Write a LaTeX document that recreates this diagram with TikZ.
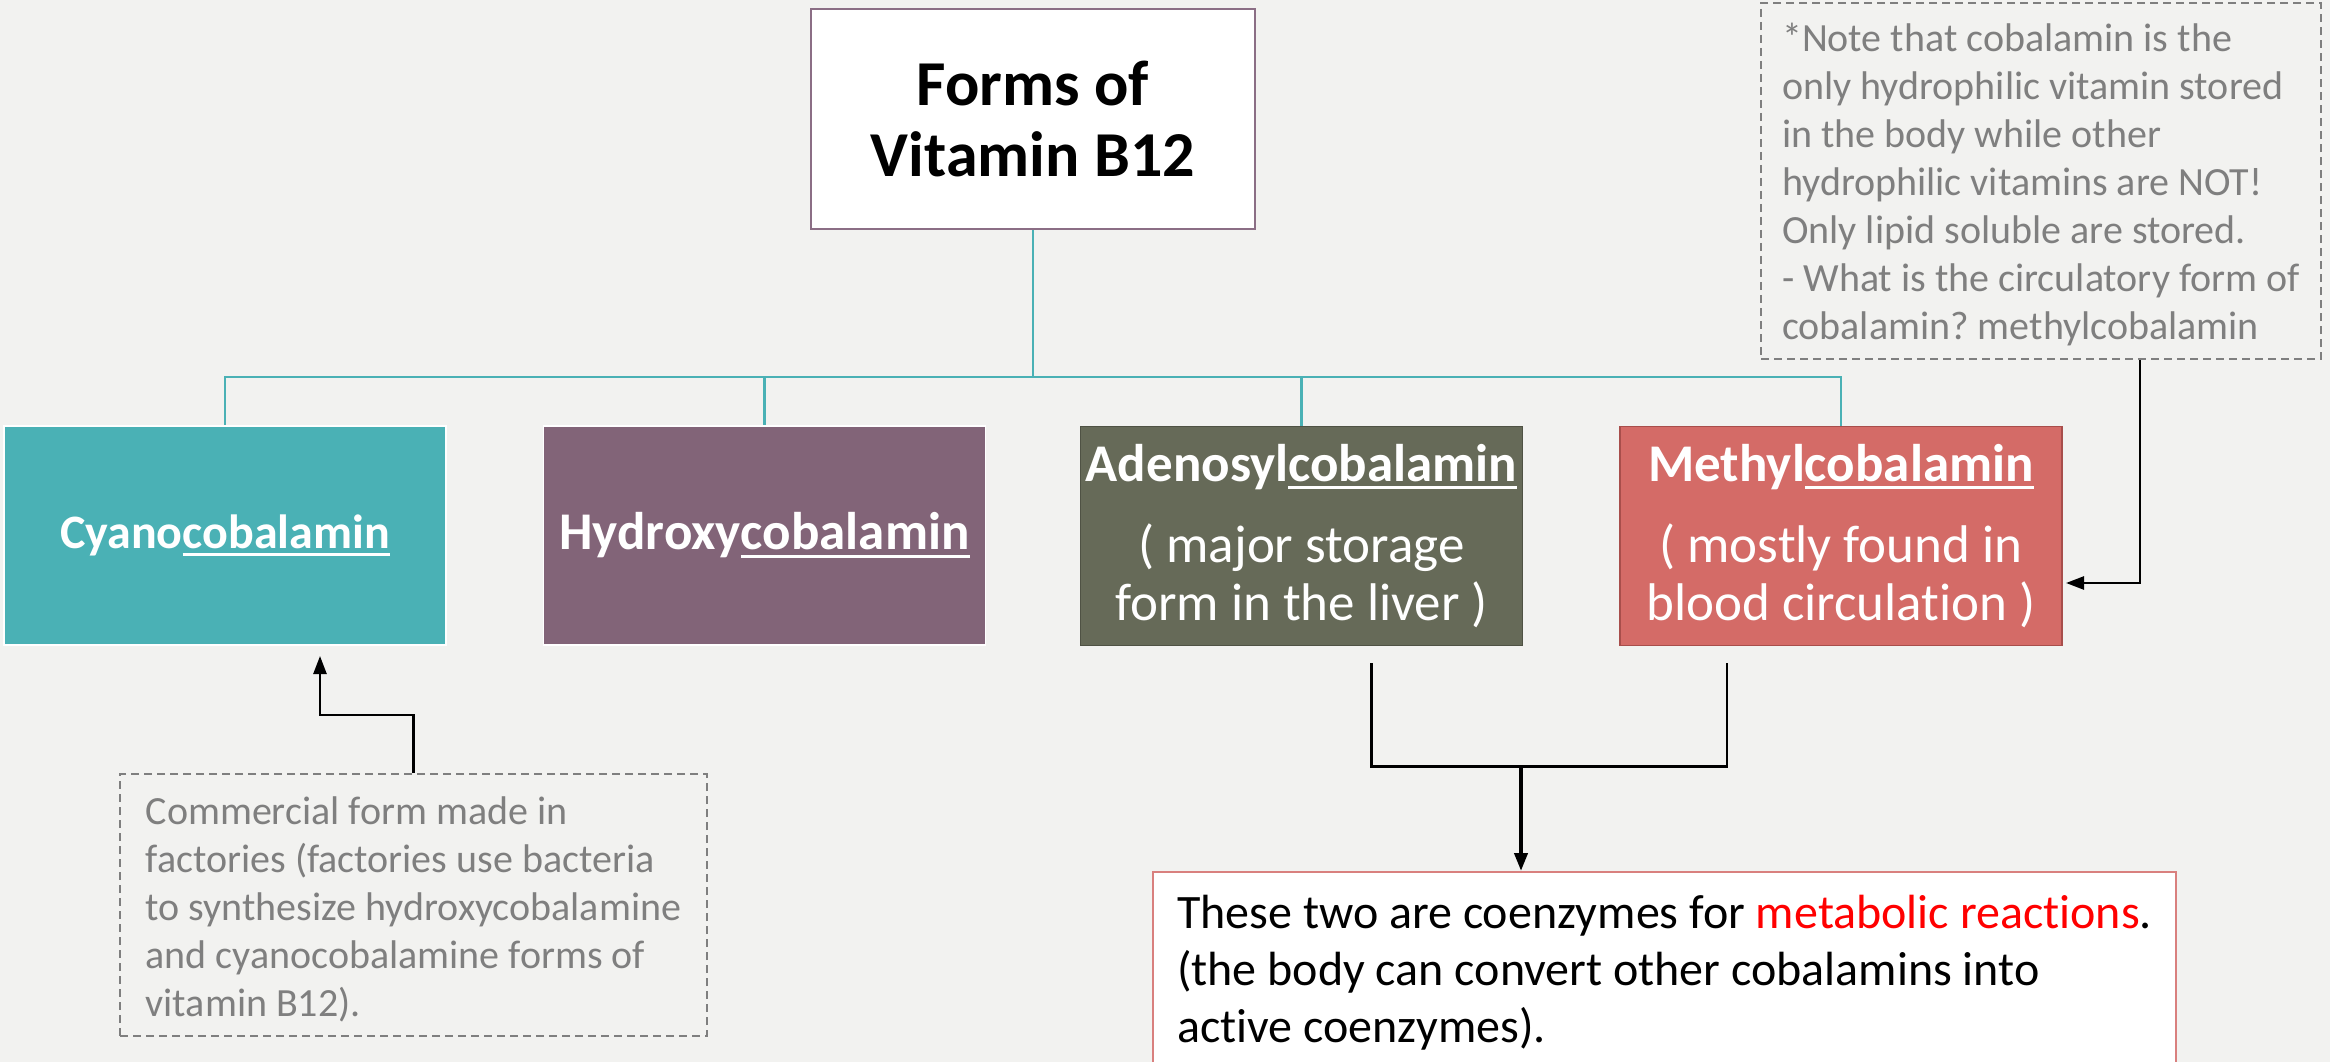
\documentclass[tikz,border=0pt]{standalone}
\usepackage{fontspec}
\setmainfont{Carlito}[RawFeature={-liga}]
\usetikzlibrary{arrows.meta,calc}
\definecolor{bg}{HTML}{F2F2F0}
\definecolor{titleborder}{HTML}{8B6E85}
\definecolor{tealc}{HTML}{4AB1B5}
\definecolor{hydfill}{HTML}{826478}
\definecolor{adfill}{HTML}{666A58}
\definecolor{adborder}{HTML}{4F5244}
\definecolor{mefill}{HTML}{D46B67}
\definecolor{meborder}{HTML}{A84E4B}
\definecolor{notegray}{HTML}{7F7F7F}
\definecolor{coborder}{HTML}{D9807E}
\newcommand\myul[1]{\setbox0=\hbox{#1}\rlap{\rule[-8pt]{\wd0}{3pt}}\box0}
\frenchspacing
\begin{document}
\begin{tikzpicture}[x=1pt,y=-1pt,
  titlebox/.style={draw=titleborder, line width=2pt, fill=white, minimum width=444pt, minimum height=220pt, inner sep=0pt, align=center, font=\fontsize{64}{71}\selectfont\bfseries},
  formbox/.style={minimum width=442pt, minimum height=219pt, inner sep=0pt, align=center, text=white, line width=1.5pt, font=\fontsize{53}{58}\selectfont},
  notebox/.style={draw=notegray, line width=2pt, dash pattern=on 8pt off 5pt, inner sep=0pt, align=left, text=notegray, font=\fontsize{40}{48}\selectfont},
  teal link/.style={draw=tealc, line width=2.5pt},
  blk link/.style={draw=black, line width=2.5pt},
  tip/.style={-{Triangle[length=18pt,width=13pt]}}
]
\useasboundingbox (0,0) rectangle (2330,1062);
\fill[bg] (0,0) rectangle (2330,1062);

\node[titlebox] (title) at (1033,119) {Forms of\\Vitamin B12};

\node[formbox, fill=tealc, draw=white, font=\fontsize{48}{58}\selectfont] (cyano) at (225,535.5) {\bfseries Cyano\myul{cobalamin}};
\node[formbox, fill=hydfill, draw=white] (hydroxy) at (764.5,535.5) {\bfseries Hydroxy\myul{cobalamin}};
\node[formbox, fill=adfill, draw=adborder] (adeno) at (1301.5,536) {{\bfseries Adenosyl\myul{cobalamin}}\\[23pt]( major storage\\form in the liver )};
\node[formbox, fill=mefill, draw=meborder] (methyl) at (1841,536) {{\bfseries Methyl\myul{cobalamin}}\\[23pt]( mostly found in\\blood circulation )};

\foreach \c in {cyano,hydroxy,adeno,methyl}
  \draw[teal link] (title.south) -- ++(0,147) -| (\c.north);

\node[notebox, minimum width=560pt, minimum height=356pt] (noteR) at (2041,181) {\rule{0pt}{36pt}*Note that cobalamin is the\\only hydrophilic vitamin stored\\in the body while other\\hydrophilic vitamins are NOT!\\Only lipid soluble are stored.\\- What is the circulatory form of\\cobalamin? methylcobalamin};

\node[notebox, minimum width=587pt, minimum height=262pt] (noteL) at (413.5,905) {\rule{0pt}{37pt}Commercial form made in\\factories (factories use bacteria\\to synthesize hydroxycobalamine\hspace*{9pt}\\and cyanocobalamine forms of\\vitamin B12).};

\node[draw=coborder, line width=2pt, fill=white, minimum width=1023pt, minimum height=202pt, inner sep=0pt, align=left, text=black, font=\fontsize{48}{57}\selectfont] (coenz) at (1664.5,973) {These two are coenzymes for \textcolor{red}{metabolic reactions}.\\(the body can convert other cobalamins into\\active coenzymes).};

\coordinate (cyTip) at (320,656);
\draw[blk link, tip] (noteL.north) -- ++(0,-58) -| (cyTip);

\coordinate (meTip) at (2066,583);
\draw[blk link, tip] ($(noteR.south west)+(380,0)$) |- (meTip);

\coordinate (adB) at ($(adeno.south)+(70,17)$);
\coordinate (meB) at ($(methyl.south)+(-114,17)$);
\draw[blk link] (adB) -- ++(0,103) -| (meB);
\coordinate (join) at (1521,766);
\draw[draw=black, line width=4pt, tip] (join) -- (join |- coenz.north);
\end{tikzpicture}
\end{document}
